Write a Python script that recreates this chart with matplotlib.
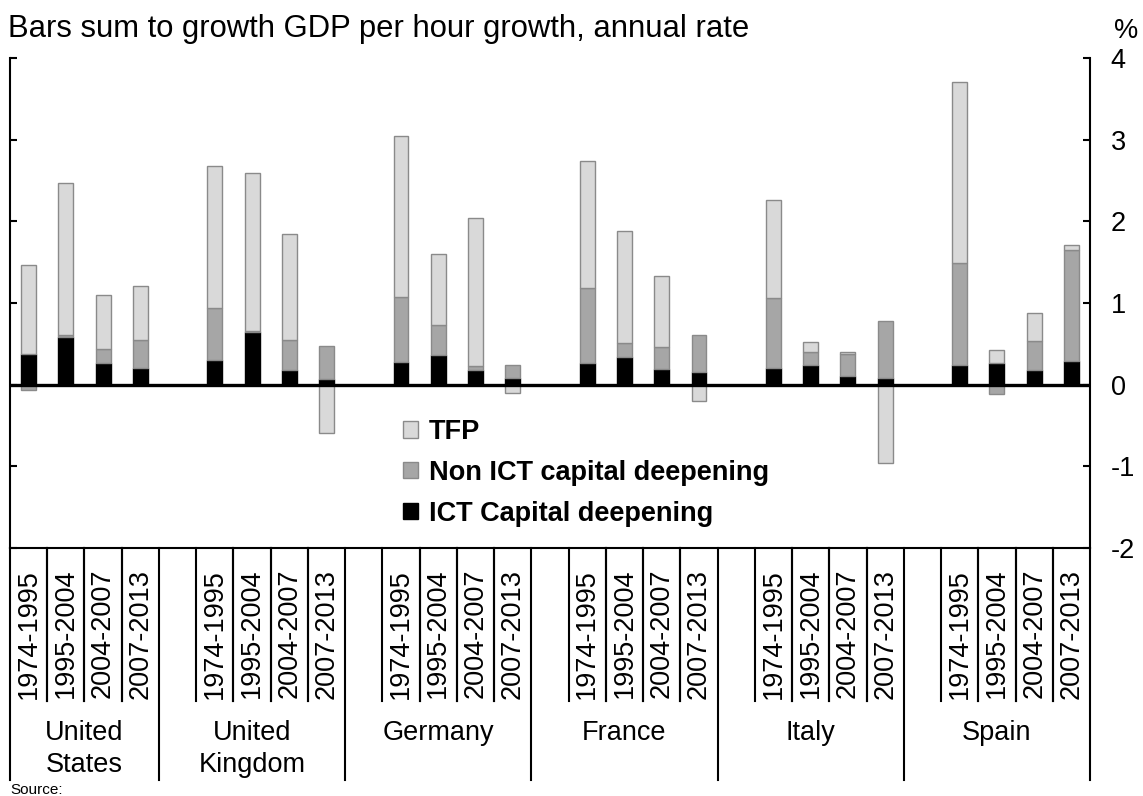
import matplotlib
matplotlib.use("Agg")
import matplotlib.pyplot as plt
from matplotlib.patches import Patch

plt.rcParams['font.family'] = ['Liberation Sans', 'DejaVu Sans']
plt.rcParams['axes.unicode_minus'] = False

countries = ["United\nStates", "United\nKingdom", "Germany", "France", "Italy", "Spain"]
periods = ["1974-1995", "1995-2004", "2004-2007", "2007-2013"]

# contributions per country, in period order (percentage points)
ict = [0.37, 0.58, 0.26, 0.21,
       0.30, 0.64, 0.18, 0.065,
       0.28, 0.36, 0.18, 0.085,
       0.27, 0.34, 0.19, 0.15,
       0.21, 0.235, 0.105, 0.085,
       0.245, 0.265, 0.175, 0.285]
non_ict = [-0.07, 0.03, 0.18, 0.34,
           0.635, 0.02, 0.37, 0.405,
           0.79, 0.37, 0.045, 0.155,
           0.915, 0.17, 0.27, 0.46,
           0.85, 0.16, 0.27, 0.69,
           1.245, -0.11, 0.365, 1.37]
tfp = [1.09, 1.855, 0.66, 0.66,
       1.74, 1.93, 1.30, -0.59,
       1.97, 0.87, 1.81, -0.10,
       1.55, 1.37, 0.87, -0.20,
       1.20, 0.13, 0.02, -0.965,
       2.22, 0.165, 0.34, 0.05]

LIGHT = "#d9d9d9"
MID = "#a6a6a6"
EDGE = "#8a8a8a"
FS = 19.5

# slot layout: US has 4 slots, every other country a blank slot + 4
xpos = []
country_bounds = [-0.5]
slot = 0
for i, c in enumerate(countries):
    if i > 0:
        slot += 1
    for p in periods:
        xpos.append(slot)
        slot += 1
    country_bounds.append(slot - 0.5)

fig = plt.figure(figsize=(11.43, 7.96), dpi=100)
ax = fig.add_axes([10 / 1143, 1 - 548 / 796, 1080 / 1143, 490 / 796])

pos_base = [0.0] * len(xpos)
neg_base = [0.0] * len(xpos)
series = [(ict, "black", "black", "ICT Capital deepening"),
          (non_ict, MID, EDGE, "Non ICT capital deepening"),
          (tfp, LIGHT, EDGE, "TFP")]
for vals, color, edge, label in series:
    bottoms = []
    for i, v in enumerate(vals):
        if v >= 0:
            bottoms.append(pos_base[i])
            pos_base[i] += v
        else:
            bottoms.append(neg_base[i])
            neg_base[i] += v
    ax.bar(xpos, vals, bottom=bottoms, width=0.4, color=color,
           edgecolor=edge, linewidth=1, zorder=2)

ax.axhline(0, color="black", linewidth=2.4, zorder=3)

ax.set_xlim(-0.5, slot - 0.5)
ax.set_ylim(-2, 4)
ax.set_yticks(range(-2, 5))
ax.tick_params(axis="y", left=True, right=True, direction="in", length=5,
               width=1.5, labelleft=False, labelright=True, labelsize=FS, pad=15)
ax.set_xticks(xpos)
ax.set_xticklabels(periods * len(countries), rotation=90, fontsize=FS)
ax.tick_params(axis="x", length=0, pad=15)
for s in ["left", "right", "bottom"]:
    ax.spines[s].set_linewidth(1.5)
ax.spines["top"].set_visible(False)

# category dividers under the axis
tr = ax.get_xaxis_transform()
for x in xpos:
    for b in (x - 0.5, x + 0.5):
        if b not in country_bounds:
            ax.plot([b, b], [0, -0.312], transform=tr, color="black",
                    linewidth=1.5, clip_on=False)
for b in country_bounds:
    ax.plot([b, b], [0, -0.4735], transform=tr, color="black",
            linewidth=1.5, clip_on=False)
for i, c in enumerate(countries):
    mid = (country_bounds[i] + country_bounds[i + 1]) / 2
    ax.text(mid, -0.35, c, transform=tr, ha="center", va="top",
            fontsize=FS, linespacing=1.3)

handles = [Patch(facecolor=LIGHT, edgecolor=EDGE, label="TFP"),
           Patch(facecolor=MID, edgecolor=EDGE, label="Non ICT capital deepening"),
           Patch(facecolor="black", edgecolor="black", label="ICT Capital deepening")]
ax.legend(handles=handles, loc="upper left", frameon=False,
          bbox_to_anchor=(403 / 1143, 1 - 419 / 796), bbox_transform=fig.transFigure,
          prop={"weight": "bold", "size": FS}, handlelength=0.55, handleheight=0.55,
          handletextpad=0.4, labelspacing=0.55, borderpad=0, borderaxespad=0)

fig.text(8 / 1143, 1 - 29 / 796, "Bars sum to growth GDP per hour growth, annual rate",
         fontsize=22.3, ha="left", va="center")
fig.text(1126 / 1143, 1 - 31 / 796, "%", fontsize=FS, ha="center", va="center")
fig.text(10 / 1143, 1 - 790 / 796, "Source:", fontsize=11, ha="left", va="center")

fig.savefig("out.png", dpi=100)
